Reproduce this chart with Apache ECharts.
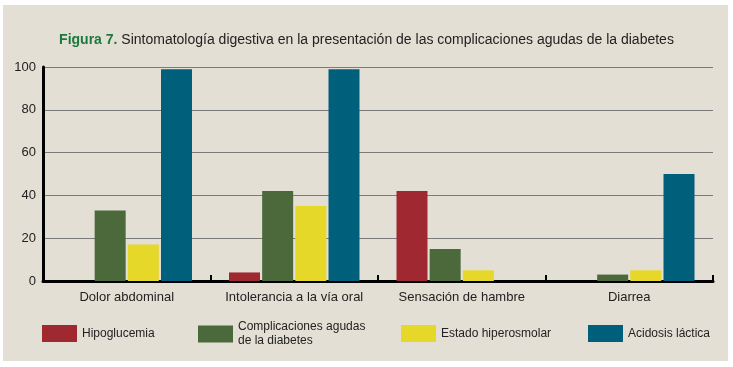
<!DOCTYPE html>
<html>
<head>
<meta charset="utf-8">
<script src="https://cdn.jsdelivr.net/npm/echarts@6/dist/echarts.min.js"></script>
<style>
  html, body { margin: 0; padding: 0; background: #ffffff; }
  #chart { width: 733px; height: 367px; }
</style>
</head>
<body>
<div id="chart"></div>
<script>
var categories = ['Dolor abdominal', 'Intolerancia a la vía oral', 'Sensación de hambre', 'Diarrea'];
var seriesNames = ['Hipoglucemia', 'Complicaciones agudas\nde la diabetes', 'Estado hiperosmolar', 'Acidosis láctica'];
var hipoglucemia = [0, 4, 42, 0];
var complicaciones = [33, 42, 15, 3];
var hiperosmolar = [17, 35, 5, 5];
var acidosis = [99, 99, 0, 50];
var yTicks = [0, 20, 40, 60, 80, 100];

var colors = ['#9f2831', '#4b693b', '#e6d829', '#005f7b'];
var font = '"Liberation Sans", sans-serif';

var chart = echarts.init(document.getElementById('chart'));

var allData = [hipoglucemia, complicaciones, hiperosmolar, acidosis];
var series = [];
for (var i = 0; i < allData.length; i++) {
  series.push({
    name: seriesNames[i],
    type: 'bar',
    barWidth: 31,
    barGap: '7%',
    itemStyle: { color: colors[i] },
    data: allData[i].map(function (v) { return v === 0 ? null : v; })
  });
}

// one legend per item so each sits where the original puts it
var legendLeft = [42, 198, 401, 588];
var legendTop = [325, 320, 325, 325];
var legends = seriesNames.map(function (n, i) {
  return {
    data: [n],
    left: legendLeft[i],
    top: legendTop[i],
    padding: 0,
    itemWidth: 35,
    itemHeight: 17,
    icon: 'rect',
    textStyle: { fontFamily: font, fontSize: 12, color: '#222', lineHeight: 14 }
  };
});

option = {
  backgroundColor: '#ffffff',
  color: colors,
  graphic: [{
    type: 'rect',
    shape: { x: 3, y: 5, width: 725, height: 356 },
    style: { fill: '#e4dfd4' },
    z: -10
  }],
  title: {
    text: '{b|Figura 7.} Sintomatología digestiva en la presentación de las complicaciones agudas de la diabetes',
    left: 'center',
    top: 28,
    textStyle: {
      fontFamily: font,
      fontSize: 14,
      fontWeight: 'normal',
      color: '#222',
      rich: {
        b: { fontFamily: font, fontSize: 14, fontWeight: 'bold', color: '#1a7a3c' }
      }
    }
  },
  legend: legends,
  grid: { left: 43, right: 20, top: 67, bottom: 86 },
  xAxis: {
    type: 'category',
    data: categories,
    axisLine: { lineStyle: { color: '#000', width: 3 } },
    axisTick: { show: true, interval: 0, inside: true, length: 6, lineStyle: { color: '#000', width: 2 } },
    axisLabel: { interval: 0, fontFamily: font, fontSize: 13, color: '#222', margin: 10 }
  },
  yAxis: {
    type: 'value',
    min: yTicks[0],
    max: yTicks[yTicks.length - 1],
    interval: 20,
    axisLine: { show: true, lineStyle: { color: '#000', width: 3 } },
    axisTick: { show: false },
    axisLabel: { fontFamily: font, fontSize: 13, color: '#222', margin: 7 },
    splitLine: { lineStyle: { color: '#7b7b7b', width: 1 } }
  },
  series: series
};

if (option && typeof option === "object") {
  chart.setOption(option, true);
}
</script>
</body>
</html>
